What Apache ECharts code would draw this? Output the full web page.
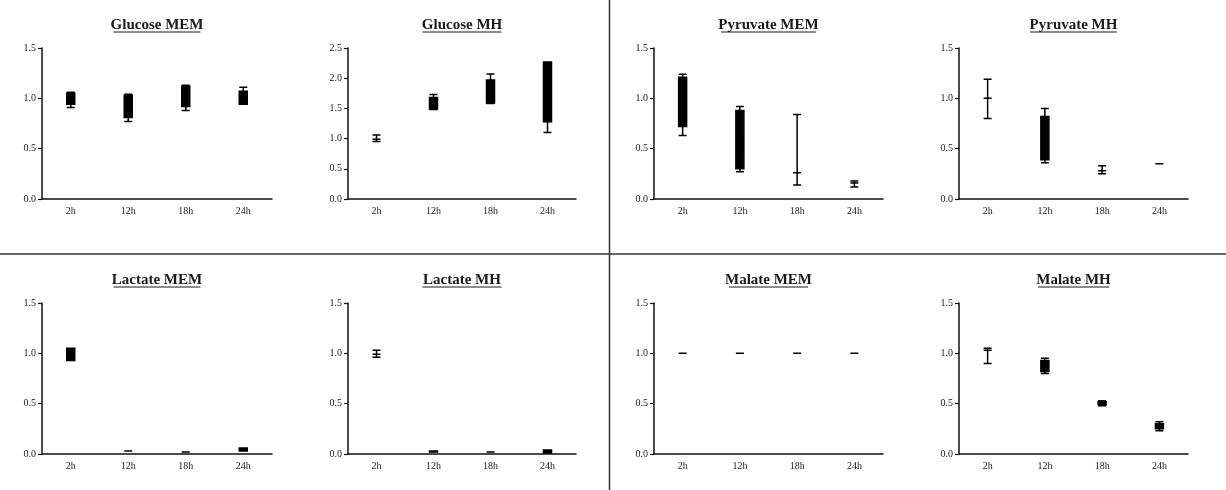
<!DOCTYPE html>
<html>
<head>
<meta charset="utf-8">
<script src="https://cdn.jsdelivr.net/npm/echarts@6/dist/echarts.min.js"></script>
<style>
  html, body { margin: 0; padding: 0; background: #fff; }
  #myChart { width: 1226px; height: 490px; }
</style>
</head>
<body>
<div id="myChart"></div>
<script>
// categories and tick labels
var categories = ['2h', '12h', '18h', '24h'];
var ticksStd = [0, 1.5];      // min / max of most panels
var ticksGlucoseMH = [0, 2.5];

// box data: [min, Q1, median, Q3, max]
var glucoseMEM = [
    [0.91, 0.94, 1.00, 1.05, 1.06],
    [0.77, 0.81, 0.95, 1.03, 1.04],
    [0.88, 0.92, 1.05, 1.12, 1.13],
    [0.94, 0.94, 1.00, 1.07, 1.11]
];
var glucoseMH = [
    [0.95, 0.99, 0.99, 0.99, 1.06],
    [1.48, 1.49, 1.60, 1.68, 1.73],
    [1.58, 1.59, 1.80, 1.97, 2.07],
    [1.10, 1.28, 1.80, 2.27, 2.27]
];
var pyruvateMEM = [
    [0.63, 0.72, 1.00, 1.21, 1.24],
    [0.27, 0.30, 0.55, 0.88, 0.92],
    [0.14, 0.26, 0.26, 0.26, 0.84],
    [0.12, 0.16, 0.16, 0.16, 0.18]
];
var pyruvateMH = [
    [0.80, 1.00, 1.00, 1.00, 1.19],
    [0.36, 0.39, 0.60, 0.82, 0.90],
    [0.25, 0.28, 0.28, 0.28, 0.33],
    [0.35, 0.35, 0.35, 0.35, 0.35]
];
var lactateMEM = [
    [0.93, 0.93, 1.00, 1.05, 1.05],
    [0.03, 0.03, 0.03, 0.03, 0.03],
    [0.02, 0.02, 0.02, 0.02, 0.02],
    [0.03, 0.03, 0.05, 0.06, 0.06]
];
var lactateMH = [
    [0.96, 0.99, 0.99, 0.99, 1.03],
    [0.02, 0.02, 0.02, 0.03, 0.03],
    [0.02, 0.02, 0.02, 0.02, 0.02],
    [0.01, 0.01, 0.02, 0.04, 0.04]
];
var malateMEM = [
    [1.00, 1.00, 1.00, 1.00, 1.00],
    [1.00, 1.00, 1.00, 1.00, 1.00],
    [1.00, 1.00, 1.00, 1.00, 1.00],
    [1.00, 1.00, 1.00, 1.00, 1.00]
];
var malateMH = [
    [0.90, 1.03, 1.03, 1.03, 1.05],
    [0.80, 0.82, 0.87, 0.93, 0.95],
    [0.48, 0.49, 0.50, 0.52, 0.53],
    [0.23, 0.25, 0.27, 0.30, 0.32]
];

var titles = ['Glucose MEM', 'Glucose MH', 'Pyruvate MEM', 'Pyruvate MH',
              'Lactate MEM', 'Lactate MH', 'Malate MEM', 'Malate MH'];
var panelData = [glucoseMEM, glucoseMH, pyruvateMEM, pyruvateMH,
                 lactateMEM, lactateMH, malateMEM, malateMH];
var panelRange = [ticksStd, ticksGlucoseMH, ticksStd, ticksStd,
                  ticksStd, ticksStd, ticksStd, ticksStd];

// layout of each plot area: [left, right, top, bottom] in px
var boxes = [
    [42, 272, 48, 199], [348, 576, 48, 199], [654, 883, 48, 199], [959, 1188, 48, 199],
    [42, 272, 303, 454], [348, 576, 303, 454], [654, 883, 303, 454], [959, 1188, 303, 454]
];

var font = '"Liberation Serif", "DejaVu Serif", serif';
var option = {
    backgroundColor: '#fff',
    animation: false,
    grid: [],
    xAxis: [],
    yAxis: [],
    series: [],
    graphic: [
        { type: 'line', shape: { x1: 609.5, y1: 0, x2: 609.5, y2: 490 }, style: { stroke: '#333', lineWidth: 1.5 } },
        { type: 'line', shape: { x1: 0, y1: 254, x2: 1226, y2: 254 }, style: { stroke: '#333', lineWidth: 1.5 } }
    ]
};

titles.forEach(function (t, i) {
    var b = boxes[i];
    var cx = (b[0] + b[1]) / 2;
    var ty = b[2] - 23;
    option.graphic.push({
        type: 'text', x: cx, y: ty,
        style: { text: t, font: 'bold 15px ' + font, fill: '#1a1a1a', align: 'center', verticalAlign: 'middle' }
    });
    // underline
    var w = t.length * 7.9;
    option.graphic.push({
        type: 'line', shape: { x1: cx - w / 2, y1: ty + 7, x2: cx + w / 2, y2: ty + 7 },
        style: { stroke: '#1a1a1a', lineWidth: 1 }
    });
    option.grid.push({ left: b[0], width: b[1] - b[0], top: b[2], height: b[3] - b[2] });
    option.xAxis.push({
        type: 'category', gridIndex: i, data: categories, boundaryGap: true,
        axisLine: { lineStyle: { color: '#111', width: 1.5 } },
        axisTick: { alignWithLabel: true, length: 4, lineStyle: { color: '#111', width: 1.2 } },
        axisLabel: { color: '#222', fontFamily: font, fontSize: 10, margin: 7 },
        splitLine: { show: false }
    });
    option.yAxis.push({
        type: 'value', gridIndex: i, min: panelRange[i][0], max: panelRange[i][1], interval: 0.5,
        axisLine: { show: true, lineStyle: { color: '#111', width: 1.5 } },
        axisTick: { show: true, length: 4, lineStyle: { color: '#111', width: 1.2 } },
        axisLabel: { color: '#222', fontFamily: font, fontSize: 10, margin: 6,
            formatter: function (v) { return v.toFixed(1); } },
        splitLine: { show: false }
    });
    option.series.push({
        type: 'boxplot', xAxisIndex: i, yAxisIndex: i,
        data: panelData[i],
        boxWidth: [8, 8],
        itemStyle: { color: '#000', borderColor: '#000', borderWidth: 1.5 }
    });
});

var myChart = echarts.init(document.getElementById('myChart'));
myChart.setOption(option);
</script>
</body>
</html>
